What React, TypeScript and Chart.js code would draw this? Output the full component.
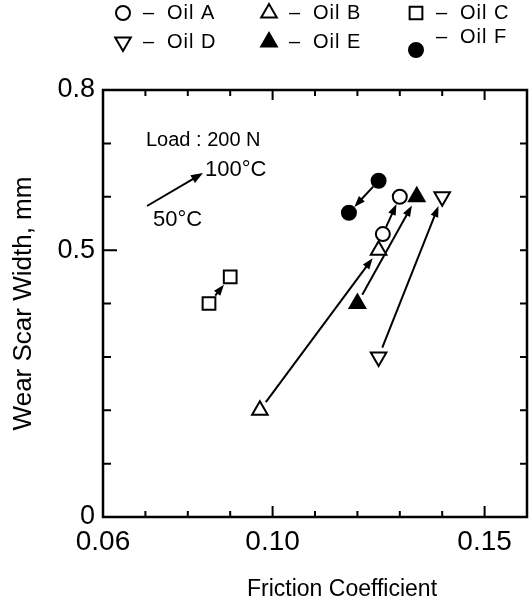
import React, { useEffect, useRef } from 'react';
import { Chart, registerables } from 'chart.js';
import { drawPoint } from 'chart.js/helpers';

Chart.register(...registerables);

// ---- data ----
const oils = ['Oil A', 'Oil B', 'Oil C', 'Oil D', 'Oil E', 'Oil F'];
// friction coefficient / wear scar width at 50°C (arrow start)
const friction50 = [0.126, 0.097, 0.085, 0.125, 0.120, 0.125];
const wear50 = [0.53, 0.20, 0.40, 0.30, 0.40, 0.63];
// friction coefficient / wear scar width at 100°C (arrow end)
const friction100 = [0.130, 0.125, 0.090, 0.140, 0.134, 0.118];
const wear100 = [0.60, 0.50, 0.45, 0.60, 0.60, 0.57];

const markerStyles = ['circle', 'triangle', 'rect', 'triangle', 'triangle', 'circle'];
const markerRotations = [0, 0, 0, 180, 0, 0];
const markerFilled = [false, false, false, false, true, true];
const markerRadius = [7, 9, 9, 9, 9, 7];

const xTickLabels = ['0.06', '0.10', '0.15'];
const yTickLabels = ['0', '0.5', '0.8'];

const FONT = "'Liberation Sans', Arial, sans-serif";

function drawArrow(
  ctx: CanvasRenderingContext2D,
  x1: number, y1: number, x2: number, y2: number,
  startGap: number, endGap: number, headLen = 11, headHalf = 4
) {
  const dx = x2 - x1, dy = y2 - y1;
  const len = Math.hypot(dx, dy);
  if (len < 1) return;
  const ux = dx / len, uy = dy / len;
  const sx = x1 + ux * startGap, sy = y1 + uy * startGap;
  const ex = x2 - ux * endGap, ey = y2 - uy * endGap;
  ctx.beginPath();
  ctx.moveTo(sx, sy);
  ctx.lineTo(ex - ux * headLen * 0.7, ey - uy * headLen * 0.7);
  ctx.stroke();
  ctx.beginPath();
  ctx.moveTo(ex, ey);
  ctx.lineTo(ex - ux * headLen - uy * headHalf, ey - uy * headLen + ux * headHalf);
  ctx.lineTo(ex - ux * headLen + uy * headHalf, ey - uy * headLen - ux * headHalf);
  ctx.closePath();
  ctx.fill();
}

function marker(ctx: CanvasRenderingContext2D, i: number, x: number, y: number) {
  ctx.save();
  ctx.strokeStyle = '#000';
  ctx.fillStyle = markerFilled[i] ? '#000' : '#fff';
  ctx.lineWidth = 2;
  drawPoint(ctx, {
    pointStyle: markerStyles[i] as any,
    rotation: markerRotations[i],
    radius: markerRadius[i],
    borderWidth: 2,
  } as any, x, y);
  ctx.restore();
}

const decorPlugin = {
  id: 'decor',
  beforeDatasetsDraw(chart: any) {
    const { ctx, scales } = chart;
    const xs = scales.x, ys = scales.y;
    ctx.save();
    ctx.strokeStyle = '#000';
    ctx.fillStyle = '#000';
    ctx.lineWidth = 2;
    for (let i = 0; i < oils.length; i++) {
      drawArrow(
        ctx,
        xs.getPixelForValue(friction50[i]), ys.getPixelForValue(wear50[i]),
        xs.getPixelForValue(friction100[i]), ys.getPixelForValue(wear100[i]),
        markerRadius[i] + 1, markerRadius[i] + 1
      );
    }
    ctx.restore();
  },
  afterDraw(chart: any) {
    const { ctx, chartArea, scales } = chart;
    const { left, right, top, bottom } = chartArea;
    const xs = scales.x, ys = scales.y;
    ctx.save();
    ctx.strokeStyle = '#000';
    ctx.fillStyle = '#000';

    // frame
    ctx.lineWidth = 2.5;
    ctx.strokeRect(left, top, right - left, bottom - top);

    // inward ticks
    ctx.lineWidth = 2;
    ctx.beginPath();
    xs.ticks.forEach((t: any) => {
      const px = xs.getPixelForValue(t.value);
      if (px <= left + 2 || px >= right - 2) return;
      const major = t.label !== '' && t.label != null;
      ctx.moveTo(px, bottom);
      ctx.lineTo(px, bottom - (major ? 11 : 6));
      ctx.moveTo(px, top);
      ctx.lineTo(px, top + (major ? 10 : 6));
    });
    ys.ticks.forEach((t: any) => {
      const py = ys.getPixelForValue(t.value);
      if (py <= top + 2 || py >= bottom - 2) return;
      const major = t.label !== '' && t.label != null;
      ctx.moveTo(left, py);
      ctx.lineTo(left + (major ? 14 : 8), py);
      ctx.moveTo(right, py);
      ctx.lineTo(right - 7, py);
    });
    ctx.stroke();

    // legend (two rows of three)
    const colX = [123, 269, 416];
    const rowY = [13, 42];
    ctx.textBaseline = 'middle';
    ctx.textAlign = 'left';
    ctx.font = `20px ${FONT}`;
    (ctx as any).letterSpacing = '1px';
    for (let i = 0; i < oils.length; i++) {
      const cx = colX[i % 3];
      const cy = rowY[Math.floor(i / 3)];
      const isF = i === 5;
      marker(ctx, i, cx, isF ? cy + 8 : cy);
      const ty = isF ? cy - 5 : cy;
      ctx.fillStyle = '#000';
      ctx.fillText('–', cx + 20, ty);
      ctx.fillText(oils[i], cx + 44, ty);
    }
    (ctx as any).letterSpacing = '0px';

    // annotation
    ctx.font = `20px ${FONT}`;
    ctx.fillText('Load : 200 N', left + 43, top + 50);
    ctx.lineWidth = 2;
    drawArrow(ctx, left + 44, top + 116, left + 100, top + 83, 0, 0, 12, 4.5);
    ctx.font = `22px ${FONT}`;
    ctx.fillText('100°C', left + 102, top + 80);
    ctx.fillText('50°C', left + 50, top + 130);

    // x axis title
    ctx.font = `23px ${FONT}`;
    ctx.textAlign = 'center';
    ctx.fillText('Friction Coefficient', 342, 590);

    ctx.restore();
  },
};

export default function App() {
  const ref = useRef<HTMLCanvasElement>(null);
  useEffect(() => {
    const datasets = oils.map((name, i) => ({
      label: name,
      data: [
        { x: friction50[i], y: wear50[i] },
        { x: friction100[i], y: wear100[i] },
      ],
      showLine: false,
      pointStyle: markerStyles[i],
      pointRotation: markerRotations[i],
      pointRadius: markerRadius[i],
      pointHoverRadius: markerRadius[i],
      pointBorderWidth: 2,
      pointBorderColor: '#000',
      pointBackgroundColor: markerFilled[i] ? '#000' : '#fff',
    }));
    const chart = new Chart(ref.current as HTMLCanvasElement, {
      type: 'scatter',
      data: { datasets } as any,
      options: {
        animation: false,
        responsive: false,
        layout: { autoPadding: false, padding: { top: 90, right: 2, bottom: 0, left: 0 } },
        plugins: { legend: { display: false }, tooltip: { enabled: false } },
        scales: {
          x: {
            type: 'linear',
            min: 0.06,
            max: 0.16,
            grid: { display: false, drawTicks: false },
            border: { display: false },
            afterFit: (s: any) => { s.height = 95; },
            ticks: {
              stepSize: 0.01,
              autoSkip: false,
              maxRotation: 0,
              minRotation: 0,
              padding: 1,
              color: '#000',
              font: { family: FONT, size: 28, lineHeight: 1.75 },
              callback: (v: any) => {
                const s = Number(v).toFixed(2);
                return xTickLabels.includes(s) ? s : '';
              },
            },
          },
          y: {
            type: 'linear',
            min: 0,
            max: 0.8,
            grid: { display: false, drawTicks: false },
            border: { display: false },
            afterFit: (s: any) => { s.width = 103; },
            title: {
              display: true,
              text: 'Wear Scar Width, mm',
              color: '#000',
              font: { family: FONT, size: 26 },
              padding: { top: 8, bottom: 0 },
            },
            ticks: {
              stepSize: 0.1,
              autoSkip: false,
              padding: 8,
              color: '#000',
              font: { family: FONT, size: 27 },
              callback: (v: any) => {
                const s = String(Number(Number(v).toFixed(1)));
                return yTickLabels.includes(s) ? s : '';
              },
            },
          },
        },
      } as any,
      plugins: [decorPlugin],
    });
    return () => chart.destroy();
  }, []);
  return (
    <div style={{ position: 'absolute', left: 0, top: 0, width: 529, height: 612, background: '#fff' }}>
      <canvas ref={ref} width={529} height={612} style={{ display: 'block', width: 529, height: 612 }} />
    </div>
  );
}
